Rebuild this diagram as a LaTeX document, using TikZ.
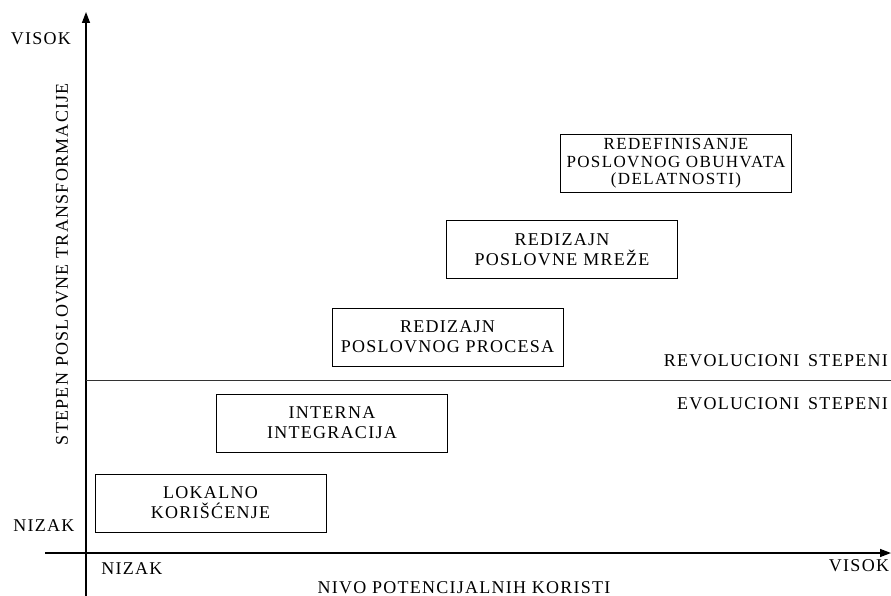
\documentclass[tikz,border=0pt]{standalone}
\usepackage{fontspec}
\setmainfont{Liberation Serif}[LetterSpace=7]
\usetikzlibrary{arrows.meta}

\begin{document}
\begin{tikzpicture}[x=1pt,y=-1pt,
  every node/.style={inner sep=0pt, font=\fontsize{18}{20}\selectfont},
  stage/.style={draw, line width=1pt, minimum width=231pt, minimum height=58pt, align=center},
  axis/.style={line width=1.4pt, -{Triangle[length=11pt,width=8pt]}},
  divider/.style={line width=1pt, black!80},
]
\useasboundingbox (0,0) rectangle (891,596);

% axes
\coordinate (ybot) at (86,596);
\coordinate (ytop) at (86,12);
\coordinate (xl) at (45,553);
\coordinate (xr) at (891,553);
\draw[axis] (ybot) -- (ytop);
\draw[axis] (xl) -- (xr);

% boundary between evolutionary and revolutionary levels
\coordinate (s1) at (86,380);
\coordinate (s2) at (891,380);
\draw[divider] (s1) -- (s2);

% axis labels
\node (vh) at (41,39) {VISOK};
\node (nl) at (44,526) {NIZAK};
\node (nb) at (132,569) {NIZAK};
\node (vb) at (859,566) {VISOK};
\node (xt) at (464,588) {NIVO POTENCIJALNIH KORISTI};
\node[rotate=90] (yt) at (62,264) {STEPEN POSLOVNE TRANSFORMACIJE};
\node[anchor=east] (rev) at (888,361) {REVOLUCIONI\hspace{3pt} STEPENI};
\node[anchor=east] (evo) at (888,404) {EVOLUCIONI\hspace{3pt} STEPENI};

% transformation levels
\node[stage] (lok) at (210.5,503) {LOKALNO\\KORIŠĆENJE};
\node[stage] (int) at (332,423) {INTERNA\\INTEGRACIJA};
\node[stage] (pro) at (447.5,337) {REDIZAJN\\POSLOVNOG PROCESA};
\node[stage] (mre) at (562,249.5) {REDIZAJN\\POSLOVNE MREŽE};
\node[stage, font=\fontsize{17}{17.5}\selectfont\addfontfeature{LetterSpace=8}] (red) at (676,163.5)
  {REDEFINISANJE\\POSLOVNOG OBUHVATA\\(DELATNOSTI)};
\end{tikzpicture}
\end{document}
